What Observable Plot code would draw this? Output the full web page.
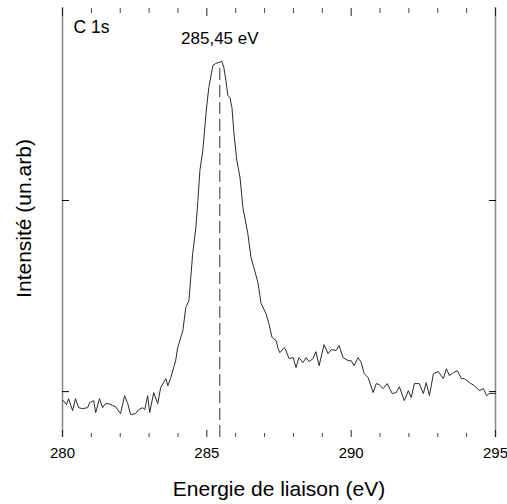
<!DOCTYPE html>
<html>
<head>
<meta charset="utf-8">
<script src="https://cdn.jsdelivr.net/npm/d3@7"></script>
<script src="https://cdn.jsdelivr.net/npm/@observablehq/plot@0.6"></script>
<style>
  html, body { margin: 0; padding: 0; background: #fff; }
  #chart svg { display: block; }
</style>
</head>
<body>
<div id="chart"></div>
<script>
// Binding energy (eV) of the C 1s spectrum
const energy = [
  280.00, 280.03, 280.14, 280.21, 280.35, 280.45, 280.56, 280.69, 280.87, 280.94,
  281.08, 281.15, 281.28, 281.39, 281.49, 281.60, 281.74, 281.84, 282.01, 282.15,
  282.26, 282.36, 282.53, 282.64, 282.78, 282.85, 282.95, 283.02, 283.16, 283.30,
  283.40, 283.58, 283.65, 283.75, 283.92, 283.99, 284.17, 284.27, 284.38, 284.51,
  284.62, 284.69, 284.76, 284.86, 284.93, 285.00, 285.07, 285.21, 285.31, 285.42,
  285.52, 285.59, 285.66, 285.73, 285.80, 285.87, 285.94, 286.04, 286.15, 286.25,
  286.42, 286.53, 286.63, 286.77, 286.88, 287.05, 287.15, 287.26, 287.40, 287.47,
  287.53, 287.67, 287.71, 287.85, 287.99, 288.09, 288.19, 288.33, 288.44, 288.54,
  288.68, 288.78, 288.89, 289.06, 289.20, 289.31, 289.48, 289.58, 289.72, 289.90,
  290.00, 290.10, 290.24, 290.35, 290.45, 290.59, 290.76, 290.87, 290.97, 291.11,
  291.25, 291.42, 291.56, 291.67, 291.84, 291.98, 292.08, 292.19, 292.36, 292.50,
  292.60, 292.71, 292.85, 293.02, 293.19, 293.30, 293.40, 293.54, 293.68, 293.82,
  293.92, 294.10, 294.27, 294.44, 294.58, 294.69, 294.79, 294.93, 295.00
];
// Intensity (arbitrary units)
const intensity = [
  0.950, 0.953, 0.932, 0.963, 0.901, 0.963, 0.916, 0.911, 0.916, 0.942,
  0.953, 0.890, 0.963, 0.916, 0.937, 0.937, 0.927, 0.921, 0.885, 0.979,
  0.937, 0.880, 0.885, 0.906, 0.916, 0.906, 0.979, 0.890, 0.995, 0.937,
  1.021, 1.068, 1.031, 1.073, 1.162, 1.230, 1.319, 1.440, 1.476, 1.723,
  1.859, 2.000, 2.157, 2.262, 2.382, 2.500, 2.592, 2.707, 2.717, 2.723,
  2.728, 2.696, 2.628, 2.550, 2.539, 2.487, 2.350, 2.209, 2.120, 1.963,
  1.827, 1.702, 1.649, 1.571, 1.461, 1.408, 1.356, 1.283, 1.267, 1.225,
  1.204, 1.230, 1.225, 1.173, 1.178, 1.126, 1.178, 1.152, 1.178, 1.157,
  1.173, 1.209, 1.136, 1.246, 1.199, 1.220, 1.215, 1.241, 1.178, 1.162,
  1.162, 1.136, 1.178, 1.152, 1.094, 1.073, 0.995, 1.042, 1.037, 1.016,
  1.042, 0.990, 0.995, 1.026, 0.953, 1.005, 0.969, 1.042, 1.042, 0.990,
  1.047, 0.979, 1.094, 1.105, 1.068, 1.120, 1.084, 1.099, 1.110, 1.068,
  1.068, 1.047, 1.031, 1.005, 1.016, 0.979, 0.990, 0.990, 0.990
];
const xDomain = [280, 295];
const yDomain = [0.76, 3.01];
const xMajorTicks = [280, 285, 290, 295];
const xMinorTicks = [281, 282, 283, 284, 286, 287, 288, 289, 291, 292, 293, 294];
const yTicks = [1, 2];
const peakEnergy = 285.45;
const peakTop = 2.707;
const peakLabel = "285,45 eV";
const peakLabelY = 2.82;
const coreLabel = "C 1s";
const coreLabelPos = [280.38, 2.874];
const xTitle = "Energie de liaison (eV)";
const yTitle = "Intensité (un.arb)";

const data = energy.map((e, i) => ({e, v: intensity[i]}));
const font = "'Liberation Sans', Arial, sans-serif";

const chart = Plot.plot({
  width: 507,
  height: 504,
  marginLeft: 62,
  marginRight: 12,
  marginTop: 7,
  marginBottom: 67,
  style: {fontFamily: font, color: "#000", background: "#fff"},
  x: {domain: xDomain},
  y: {domain: yDomain},
  marks: [
    // frame sides
    Plot.ruleX(xDomain, {stroke: "#8a8a8a", strokeWidth: 1.6}),
    // inward ticks bottom/top
    Plot.axisX({anchor: "bottom", ticks: xMajorTicks, tickSize: -7, text: null, label: null, stroke: "#222"}),
    Plot.axisX({anchor: "bottom", ticks: xMinorTicks, tickSize: -4, text: null, label: null, stroke: "#444"}),
    Plot.axisX({anchor: "top", ticks: xMajorTicks, tickSize: -8, text: null, label: null, stroke: "#222"}),
    Plot.axisX({anchor: "top", ticks: xMinorTicks, tickSize: -5, text: null, label: null, stroke: "#444"}),
    // tick labels
    Plot.axisX({anchor: "bottom", ticks: xMajorTicks, tickSize: 0, tickPadding: 10, fontSize: 15, label: null, tickFormat: d => String(d)}),
    // y ticks, inward, left and right
    Plot.axisY({anchor: "left", ticks: yTicks, tickSize: -7, text: null, label: null, stroke: "#000"}),
    Plot.axisY({anchor: "right", ticks: yTicks, tickSize: -7, text: null, label: null, stroke: "#000"}),
    // dashed peak marker
    Plot.ruleX([peakEnergy], {y1: yDomain[0], y2: peakTop, stroke: "#333", strokeWidth: 1, strokeDasharray: "12,5"}),
    // spectrum
    Plot.line(data, {x: "e", y: "v", stroke: "#2a2a2a", strokeWidth: 1}),
    // annotations
    Plot.text([peakLabel], {x: peakEnergy, y: peakLabelY, text: d => d, fontSize: 17, lineAnchor: "bottom", fill: "#000"}),
    Plot.text([coreLabel], {x: coreLabelPos[0], y: coreLabelPos[1], text: d => d, fontSize: 17.5, textAnchor: "start", lineAnchor: "bottom", fill: "#000"}),
    // axis titles
    Plot.text([xTitle], {frameAnchor: "bottom", dy: 58, text: d => d, fontSize: 21, textAnchor: "middle", lineAnchor: "bottom", fill: "#000"}),
    Plot.text([yTitle], {frameAnchor: "left", dx: -32, dy: -4, rotate: -90, text: d => d, fontSize: 21, textAnchor: "middle", lineAnchor: "bottom", fill: "#000"})
  ]
});
document.getElementById("chart").appendChild(chart);
</script>
</body>
</html>
